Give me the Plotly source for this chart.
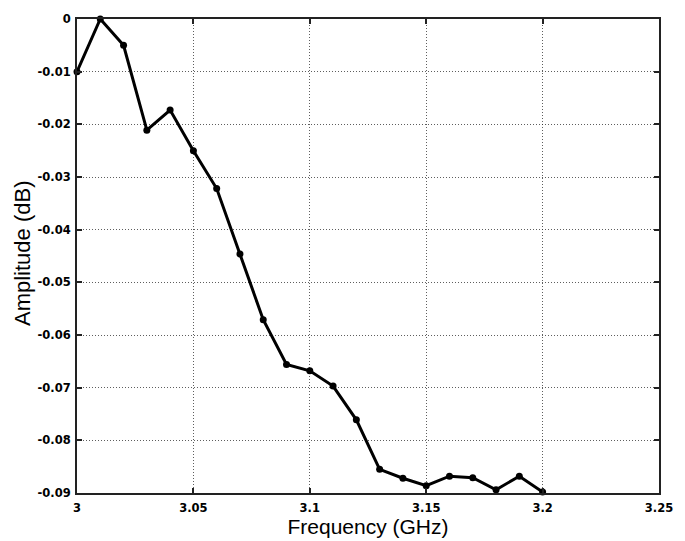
import plotly.graph_objects as go

freq = [3.00, 3.01, 3.02, 3.03, 3.04, 3.05, 3.06, 3.07, 3.08, 3.09, 3.10,
        3.11, 3.12, 3.13, 3.14, 3.15, 3.16, 3.17, 3.18, 3.19, 3.20]
amp = [-0.0100, 0.0000, -0.0050, -0.0211, -0.0173, -0.0250, -0.0322, -0.0446,
       -0.0571, -0.0656, -0.0668, -0.0697, -0.0761, -0.0855, -0.0872, -0.0886,
       -0.0868, -0.0871, -0.0894, -0.0868, -0.0898]
x_ticks = [3.0, 3.05, 3.1, 3.15, 3.2, 3.25]
x_labels = ["3", "3.05", "3.1", "3.15", "3.2", "3.25"]
y_ticks = [0, -0.01, -0.02, -0.03, -0.04, -0.05, -0.06, -0.07, -0.08, -0.09]
y_labels = ["0", "-0.01", "-0.02", "-0.03", "-0.04", "-0.05", "-0.06", "-0.07", "-0.08", "-0.09"]
x_title = "Frequency (GHz)"
y_title = "Amplitude (dB)"

FONT = "Liberation Sans, Arial, Helvetica, sans-serif"
TICKFONT = "DejaVu Sans, sans-serif"

fig = go.Figure()
fig.add_trace(go.Scatter(
    x=freq, y=amp, mode="lines+markers",
    line=dict(color="black", width=3),
    marker=dict(color="black", size=7),
    showlegend=False, cliponaxis=False,
))

axis_common = dict(
    showline=True, linecolor="#222", linewidth=2, mirror="ticks",
    ticks="inside", ticklen=5, tickcolor="#222", tickwidth=1.5,
    showgrid=True, gridcolor="rgba(40,40,40,0.75)", griddash="1px,2px", gridwidth=1,
    zeroline=False, ticklabeloverflow="allow",
    tickfont=dict(family=TICKFONT, size=11.5, color="black", weight=700),
)

fig.update_layout(
    width=685, height=541,
    margin=dict(l=77, r=12, t=15, b=48),
    paper_bgcolor="white", plot_bgcolor="white",
    xaxis=dict(range=[3.0, 3.25], tickvals=x_ticks, ticktext=x_labels,
               ticklabelstandoff=3,
               title=dict(text=x_title, standoff=0,
                          font=dict(family=FONT, size=21, color="black")),
               **axis_common),
    yaxis=dict(range=[-0.09, 0], tickvals=y_ticks, ticktext=y_labels,
               ticklabelstandoff=2,
               **axis_common),
    annotations=[dict(
        text=y_title, xref="paper", yref="paper", x=0, y=0.5,
        xanchor="center", yanchor="middle", xshift=-55, yshift=3,
        textangle=-90, showarrow=False,
        font=dict(family=FONT, size=22, color="black"),
    )],
)

fig.write_html("out.html")
